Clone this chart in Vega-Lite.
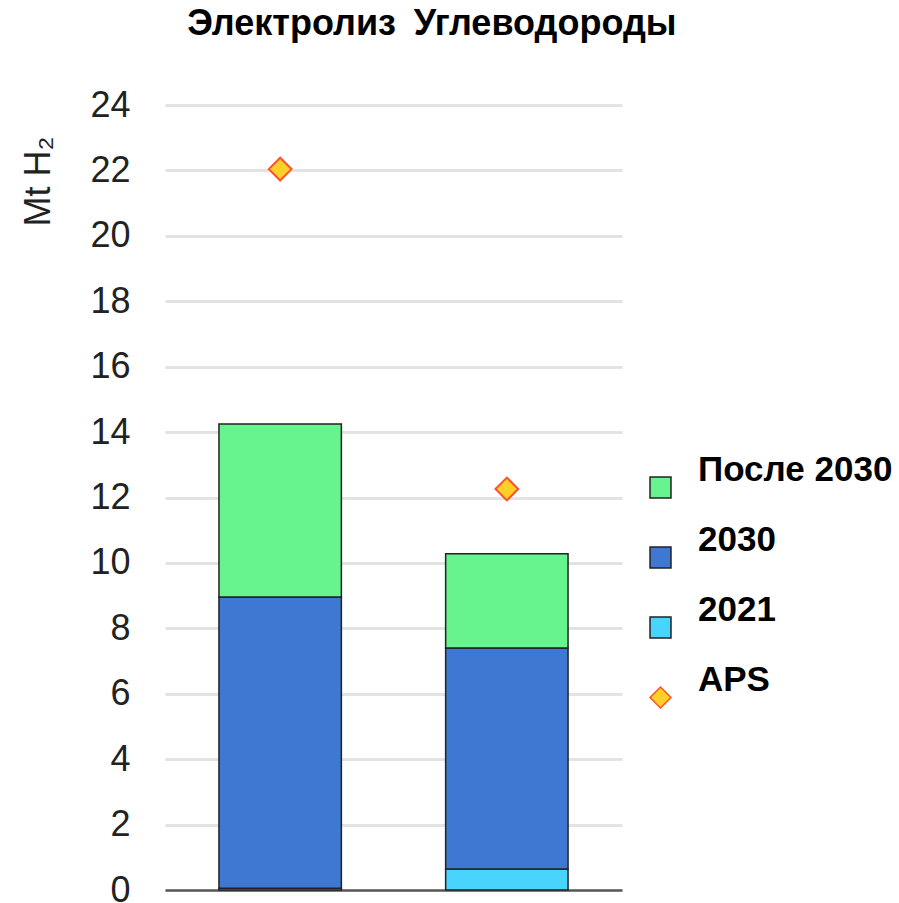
{
  "$schema": "https://vega.github.io/schema/vega-lite/v6.json",
  "width": 457,
  "height": 785,
  "autosize": {"type": "none"},
  "padding": {"left": 165, "top": 105, "right": 277, "bottom": 13},
  "background": "white",
  "config": {"view": {"stroke": null}, "font": "Liberation Sans"},
  "datasets": {
    "bars": [
      {"category": "Электролиз", "series": "2021", "value": 0.05},
      {"category": "Электролиз", "series": "2030", "value": 8.91},
      {"category": "Электролиз", "series": "После 2030", "value": 5.29},
      {"category": "Углеводороды", "series": "2021", "value": 0.64},
      {"category": "Углеводороды", "series": "2030", "value": 6.76},
      {"category": "Углеводороды", "series": "После 2030", "value": 2.88}
    ],
    "aps": [
      {"category": "Электролиз", "series": "APS", "value": 22.04},
      {"category": "Углеводороды", "series": "APS", "value": 12.26}
    ]
  },
  "layer": [
    {
      "data": {"name": "bars"},
      "mark": {"type": "bar", "stroke": "#222", "strokeWidth": 1.5},
      "encoding": {
        "x": {
          "field": "category",
          "type": "nominal",
          "sort": ["Электролиз", "Углеводороды"],
          "scale": {"paddingInner": 0.46, "paddingOuter": 0.238},
          "axis": {
            "orient": "top",
            "title": null,
            "domain": false,
            "ticks": false,
            "labelAngle": 0,
            "labelFontSize": 36,
            "labelFontWeight": "bold",
            "labelColor": "#000",
            "labelPadding": 63,
            "labelLimit": 0,
            "labelOverlap": false,
            "labelAlign": "left",
            "labelOffset": -93
          }
        },
        "y": {
          "field": "value",
          "type": "quantitative",
          "stack": "zero",
          "scale": {"domain": [0, 24]},
          "axis": {
            "title": "Mt H₂",
            "titleFontSize": 36,
            "titleFontWeight": "normal",
            "titleColor": "#222",
            "titleAngle": -90,
            "titleX": -127,
            "titleY": 76,
            "titleAlign": "center",
            "titleBaseline": "middle",
            "domain": false,
            "ticks": false,
            "values": [0, 2, 4, 6, 8, 10, 12, 14, 16, 18, 20, 22, 24],
            "labelFontSize": 36,
            "labelColor": "#222",
            "labelPadding": 35,
            "gridColor": {"condition": {"test": "datum.value === 0", "value": "#555"}, "value": "#e3e3e3"},
            "gridWidth": {"condition": {"test": "datum.value === 0", "value": 2.5}, "value": 3}
          }
        },
        "color": {
          "field": "series",
          "type": "nominal",
          "scale": {
            "domain": ["После 2030", "2030", "2021", "APS"],
            "range": ["#67f48f", "#3f78d3", "#48d4fc", "#ffd028"]
          },
          "legend": {
            "title": null,
            "orient": "none",
            "legendX": 478,
            "legendY": 365,
            "labelFontSize": 35,
            "labelFontWeight": "bold",
            "labelColor": "#000",
            "labelLimit": 0,
            "symbolSize": 440,
            "symbolType": "square",
            "symbolStrokeWidth": 1.5,
            "symbolStrokeColor": "#222",
            "symbolOpacity": 1,
            "labelOffset": 20,
            "rowPadding": 21,
            "labelBaseline": "bottom",
            "encode": {
              "symbols": {
                "update": {
                  "shape": {"signal": "datum.value === 'APS' ? 'diamond' : 'square'"},
                  "stroke": {"signal": "datum.value === 'APS' ? '#ff5030' : '#222'"}
                }
              }
            }
          }
        },
        "order": {"field": "series", "sort": "ascending"}
      }
    },
    {
      "data": {"name": "aps"},
      "mark": {"type": "point", "shape": "diamond", "filled": true, "size": 520, "stroke": "#ff5030", "strokeWidth": 2, "opacity": 1},
      "encoding": {
        "x": {"field": "category", "type": "nominal", "sort": ["Электролиз", "Углеводороды"]},
        "y": {"field": "value", "type": "quantitative"},
        "color": {"field": "series", "type": "nominal"}
      }
    }
  ]
}
